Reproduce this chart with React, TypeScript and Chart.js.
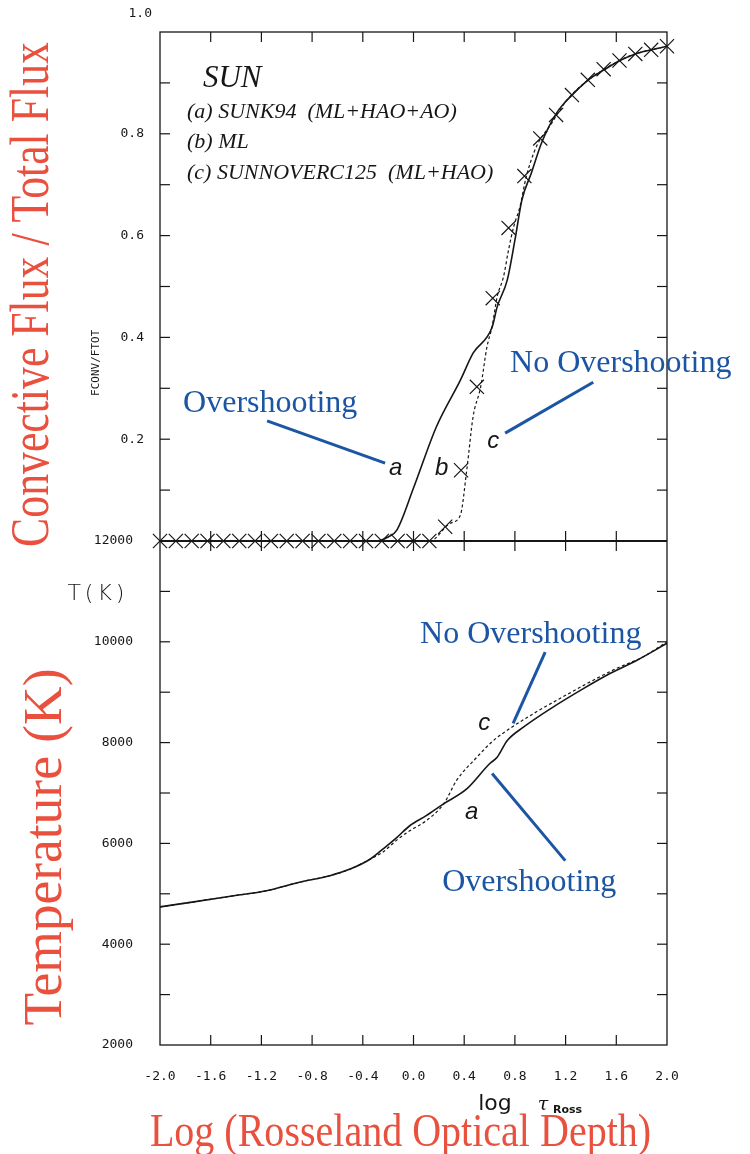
import React, { useEffect, useRef } from "react";
import { Chart, registerables } from "chart.js";

Chart.register(...registerables);

// ---------- Data ----------
// (b) ML model: log tau_Ross grid and FCONV/FTOT, drawn with x markers
const tauML = [-2.0, -1.875, -1.75, -1.625, -1.5, -1.375, -1.25, -1.125, -1.0, -0.875, -0.75, -0.625, -0.5, -0.375, -0.25, -0.125, 0.0, 0.125, 0.25, 0.375, 0.5, 0.625, 0.75, 0.875, 1.0, 1.125, 1.25, 1.375, 1.5, 1.625, 1.75, 1.875, 2.0];
const fluxML = [0, 0, 0, 0, 0, 0, 0, 0, 0, 0, 0, 0, 0, 0, 0, 0, 0, 0, 0.028, 0.139, 0.303, 0.477, 0.615, 0.717, 0.791, 0.837, 0.876, 0.906, 0.927, 0.944, 0.957, 0.965, 0.972];

// (a) SUNK94 (overshooting): convective flux fraction
const tauFluxA = [-2.0, -0.3, -0.2, -0.13, 0.0, 0.18, 0.37, 0.47, 0.62, 0.66, 0.74, 0.8, 0.855, 0.93, 1.01, 1.13, 1.25, 1.38, 1.5, 1.62, 1.75, 1.875, 2.0];
const fluxA = [0, 0, 0.008, 0.022, 0.104, 0.224, 0.316, 0.369, 0.42, 0.46, 0.513, 0.591, 0.67, 0.723, 0.782, 0.841, 0.876, 0.906, 0.925, 0.943, 0.957, 0.965, 0.972];

// (c) SUNNOVERC125 (no overshooting): convective flux fraction
const tauFluxC = [-2.0, 0.13, 0.29, 0.37, 0.42, 0.47, 0.53, 0.58, 0.62, 0.66, 0.71, 0.75, 0.79, 0.84, 0.89, 0.97, 1.08, 1.21, 1.375, 1.5, 1.625, 1.75, 1.875, 2.0];
const fluxC = [0, 0, 0.035, 0.051, 0.139, 0.244, 0.303, 0.382, 0.421, 0.48, 0.519, 0.572, 0.617, 0.657, 0.716, 0.775, 0.817, 0.866, 0.905, 0.926, 0.944, 0.957, 0.965, 0.972];

// Temperature structure, model (a)
const tauTempA = [-2.0, -1.76, -1.42, -1.16, -0.9, -0.66, -0.5, -0.34, -0.24, -0.13, -0.03, 0.1, 0.24, 0.42, 0.6, 0.66, 0.74, 0.87, 1.08, 1.34, 1.55, 1.76, 2.0];
const tempA = [4740, 4830, 4960, 5060, 5230, 5360, 5490, 5690, 5890, 6120, 6350, 6550, 6790, 7080, 7580, 7710, 8040, 8310, 8670, 9070, 9370, 9630, 9970];

// Temperature structure, model (c)
const tauTempC = [-2.0, -1.76, -1.42, -1.16, -0.9, -0.66, -0.5, -0.34, -0.24, -0.13, -0.03, 0.1, 0.24, 0.34, 0.5, 0.63, 0.76, 0.97, 1.18, 1.39, 1.6, 1.81, 2.0];
const tempC = [4740, 4830, 4960, 5060, 5230, 5360, 5490, 5690, 5830, 6070, 6250, 6450, 6790, 7250, 7710, 8040, 8280, 8610, 8910, 9200, 9470, 9700, 10000];

// Axis ranges / tick steps
const xRange = [-2.0, 2.0];
const xStep = 0.4;
const fluxRange = [0, 1];
const fluxStep = 0.1;
const tempRange = [2000, 12000];
const tempStep = 1000;

// Legend text lines
const legendTitle = "SUN";
const legendLines = ["(a) SUNK94  (ML+HAO+AO)", "(b) ML", "(c) SUNNOVERC125  (ML+HAO)"];

const RED = "#e9503e";
const BLUE = "#1b55a3";
const INK = "#161616";

const pts = (xs: number[], ys: number[]) => xs.map((x, i) => ({ x, y: ys[i] }));

function txt(
  ctx: CanvasRenderingContext2D,
  s: string,
  x: number,
  y: number,
  font: string,
  color: string,
  align: CanvasTextAlign = "left",
  baseline: CanvasTextBaseline = "alphabetic",
  rot = 0,
  scaleX = 1,
  spacing = "0px"
) {
  ctx.save();
  ctx.translate(x, y);
  ctx.rotate(rot);
  ctx.scale(scaleX, 1);
  ctx.font = font;
  ctx.fillStyle = color;
  ctx.textAlign = align;
  ctx.textBaseline = baseline;
  (ctx as any).letterSpacing = spacing;
  ctx.fillText(s, 0, 0);
  (ctx as any).letterSpacing = "0px";
  ctx.restore();
}

function seg(ctx: CanvasRenderingContext2D, x1: number, y1: number, x2: number, y2: number) {
  ctx.beginPath();
  ctx.moveTo(x1, y1);
  ctx.lineTo(x2, y2);
  ctx.stroke();
}

const decor = {
  id: "decor",
  afterDraw(chart: any) {
    const { ctx, chartArea: ca } = chart;
    const sx = chart.scales.x;
    const yF = chart.scales.yF;
    const yT = chart.scales.yT;
    const X = (v: number) => sx.getPixelForValue(v);
    const F = (v: number) => yF.getPixelForValue(v);
    const T = (v: number) => yT.getPixelForValue(v);
    const mid = F(0);

    ctx.save();
    // frames
    ctx.strokeStyle = INK;
    ctx.lineWidth = 1.3;
    ctx.strokeRect(ca.left, ca.top, ca.right - ca.left, ca.bottom - ca.top);
    ctx.lineWidth = 1.8;
    seg(ctx, ca.left, mid, ca.right, mid);

    // inward tick marks
    const TL = 10;
    ctx.lineWidth = 1.2;
    sx.ticks.forEach((t: any) => {
      const p = X(t.value);
      if (p <= ca.left + 1 || p >= ca.right - 1) return;
      seg(ctx, p, ca.top, p, ca.top + TL);
      seg(ctx, p, mid, p, mid - TL);
      seg(ctx, p, mid, p, mid + TL);
      seg(ctx, p, ca.bottom, p, ca.bottom - TL);
    });
    yF.ticks.forEach((t: any) => {
      const p = F(t.value);
      if (p <= ca.top + 1 || p >= mid - 1) return;
      seg(ctx, ca.left, p, ca.left + TL, p);
      seg(ctx, ca.right, p, ca.right - TL, p);
    });
    yT.ticks.forEach((t: any) => {
      const p = T(t.value);
      if (p <= mid + 1 || p >= ca.bottom - 1) return;
      seg(ctx, ca.left, p, ca.left + TL, p);
      seg(ctx, ca.right, p, ca.right - TL, p);
    });

    // top label "1.0" printed above the frame as in the original
    txt(ctx, "1.0", X(-2.063), F(1.0) - 18, '13px "DejaVu Sans Mono"', INK, "right", "middle");

    // small axis names
    txt(ctx, "FCONV/FTOT", X(-2.505), F(0.35), '11px "DejaVu Sans Mono"', INK, "center", "middle", -Math.PI / 2);
    txt(ctx, "T(K)", X(-2.49), T(10946), '200 22px "DejaVu Sans"', INK, "center", "middle", 0, 1, "4px");

    // log tau_Ross
    const ly = ca.bottom + 65;
    txt(ctx, "log", X(0.51), ly, '22px "DejaVu Sans"', INK, "left", "alphabetic");
    txt(ctx, "τ", X(0.98), ly, 'italic 19px "DejaVu Serif"', INK, "left", "alphabetic");
    txt(ctx, "Ross", X(1.1), ly + 3, 'bold 11px "DejaVu Sans"', INK, "left", "alphabetic");

    // legend block
    txt(ctx, legendTitle, X(-1.661), F(0.892), 'italic 31px "Liberation Serif"', INK, "left", "alphabetic");
    const legY = [0.843, 0.784, 0.723];
    legendLines.forEach((s, i) => {
      txt(ctx, s, X(-1.787), F(legY[i]), 'italic 22px "Liberation Serif"', INK, "left", "middle");
    });

    // curve labels
    const lab = 'italic 24px "Liberation Sans"';
    txt(ctx, "a", X(-0.193), F(0.13), lab, INK);
    txt(ctx, "b", X(0.17), F(0.13), lab, INK);
    txt(ctx, "c", X(0.581), F(0.183), lab, INK);
    txt(ctx, "c", X(0.51), T(8243), lab, INK);
    txt(ctx, "a", X(0.407), T(6493), lab, INK);

    // blue annotations
    const bf = '32px "Liberation Serif"';
    ctx.strokeStyle = BLUE;
    ctx.lineWidth = 3;
    txt(ctx, "Overshooting", X(-1.818), F(0.253), bf, BLUE);
    seg(ctx, X(-1.155), F(0.236), X(-0.224), F(0.153));
    txt(ctx, "No Overshooting", X(0.762), F(0.332), bf, BLUE);
    seg(ctx, X(1.418), F(0.312), X(0.723), F(0.212));
    txt(ctx, "No Overshooting", X(0.052), T(9972), bf, BLUE);
    seg(ctx, X(1.039), T(9793), X(0.786), T(8382));
    txt(ctx, "Overshooting", X(0.226), T(5062), bf, BLUE);
    seg(ctx, X(0.62), T(7388), X(1.197), T(5658));

    // red axis titles
    txt(ctx, "Convective Flux / Total Flux", ca.left - 112, (F(0) + F(1)) / 2 + 8, '54px "Liberation Serif"', RED, "center", "alphabetic", -Math.PI / 2, 0.81);
    txt(ctx, "Temperature (K)", ca.left - 99, (T(tempRange[0]) + T(tempRange[1])) / 2 + 54, '54px "Liberation Serif"', RED, "center", "alphabetic", -Math.PI / 2, 0.99);
    txt(ctx, "Log (Rosseland Optical Depth)", (ca.left + ca.right) / 2 - 13, ca.bottom + 101, '46px "Liberation Serif"', RED, "center", "alphabetic", 0, 0.87);

    ctx.restore();
  },
};

const fmtTau = (v: number) => {
  const r = Math.round(v * 10) / 10;
  return (Math.abs(r) < 1e-9 ? 0 : r).toFixed(1);
};

export default function App() {
  const ref = useRef<HTMLCanvasElement>(null);

  useEffect(() => {
    const canvas = ref.current;
    if (!canvas) return;
    const tickFontY = { family: "DejaVu Sans Mono", size: 13 };
    const chart = new Chart(canvas, {
      type: "line",
      data: {
        datasets: [
          {
            label: "a flux",
            data: pts(tauFluxA, fluxA),
            yAxisID: "yF",
            borderColor: INK,
            borderWidth: 1.6,
            pointRadius: 0,
            cubicInterpolationMode: "monotone",
          },
          {
            label: "c flux",
            data: pts(tauFluxC, fluxC),
            yAxisID: "yF",
            borderColor: INK,
            borderWidth: 1.2,
            borderDash: [3, 2.5],
            pointRadius: 0,
            cubicInterpolationMode: "monotone",
          },
          {
            label: "b flux",
            data: pts(tauML, fluxML),
            yAxisID: "yF",
            showLine: false,
            pointStyle: "crossRot",
            pointRadius: 10,
            pointBorderWidth: 1.2,
            borderColor: INK,
            backgroundColor: INK,
            clip: false,
          },
          {
            label: "a temp",
            data: pts(tauTempA, tempA),
            yAxisID: "yT",
            borderColor: INK,
            borderWidth: 1.6,
            pointRadius: 0,
            cubicInterpolationMode: "monotone",
          },
          {
            label: "c temp",
            data: pts(tauTempC, tempC),
            yAxisID: "yT",
            borderColor: INK,
            borderWidth: 1.2,
            borderDash: [3, 2.5],
            pointRadius: 0,
            cubicInterpolationMode: "monotone",
          },
        ] as any,
      },
      options: {
        responsive: false,
        animation: false,
        devicePixelRatio: 1,
        events: [],
        layout: { padding: { left: 60, right: 83, top: 32, bottom: 69 } },
        plugins: { legend: { display: false }, tooltip: { enabled: false } },
        scales: {
          x: {
            type: "linear",
            position: "bottom",
            min: xRange[0],
            max: xRange[1],
            grid: { display: false },
            border: { display: false },
            ticks: {
              stepSize: xStep,
              autoSkip: false,
              maxRotation: 0,
              padding: 16,
              color: INK,
              font: { family: "DejaVu Sans Mono", size: 13 },
              callback: (v: any) => fmtTau(Number(v)),
            },
            afterFit: (s: any) => {
              s.height = 40;
            },
          },
          yT: {
            type: "linear",
            position: "left",
            stack: "panels",
            stackWeight: 504,
            min: tempRange[0],
            max: tempRange[1],
            grid: { display: false },
            border: { display: false },
            ticks: {
              stepSize: tempStep,
              autoSkip: false,
              padding: 19,
              color: INK,
              font: tickFontY,
              callback: (v: any) => (Number(v) % 2000 === 0 ? String(v) : ""),
            },
            afterFit: (s: any) => {
              s.width = 100;
            },
          },
          yF: {
            type: "linear",
            position: "left",
            stack: "panels",
            stackWeight: 509,
            min: fluxRange[0],
            max: fluxRange[1],
            grid: { display: false },
            border: { display: false },
            ticks: {
              stepSize: fluxStep,
              autoSkip: false,
              padding: 8,
              color: INK,
              font: tickFontY,
              callback: (v: any) => {
                const k = Math.round(Number(v) * 10);
                if (k === 0 || k === 10 || k % 2 !== 0) return "";
                return (k / 10).toFixed(1);
              },
            },
            afterFit: (s: any) => {
              s.width = 100;
            },
          },
        } as any,
      },
      plugins: [decor],
    });
    return () => chart.destroy();
  }, []);

  return (
    <div style={{ position: "absolute", left: 0, top: 0, width: 750, height: 1154, background: "#fff" }}>
      <canvas ref={ref} width={750} height={1154} style={{ display: "block", width: 750, height: 1154 }} />
    </div>
  );
}
